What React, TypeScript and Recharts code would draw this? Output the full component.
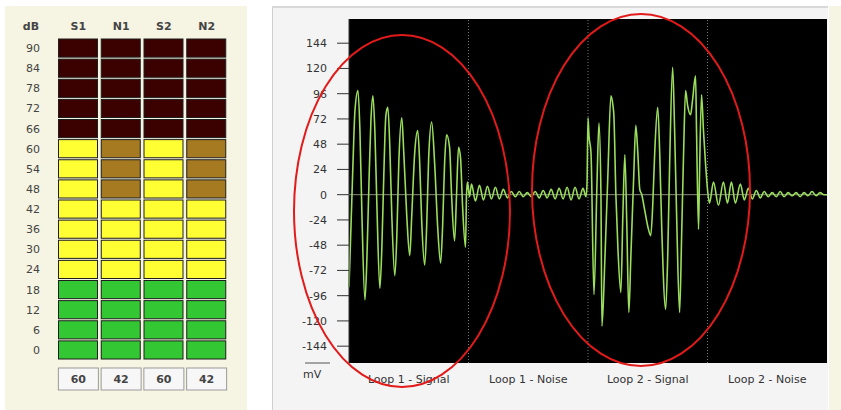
import React from 'react'
import {
  BarChart,
  Bar,
  XAxis,
  YAxis,
  LineChart,
  Line,
  CartesianGrid,
  ReferenceLine,
} from 'recharts'

// level meter: 16 steps of 6 dB per channel
const dbStep = 6
const dbLevels = [0, 6, 12, 18, 24, 30, 36, 42, 48, 54, 60, 66, 72, 78, 84, 90]
const channels = ['S1', 'N1', 'S2', 'N2']
const readings = [60, 42, 60, 42]

// waveform, [time, mV]
const loop1Signal = [
  [0, -88], [2, -30], [4, 30], [6, 80], [9, 99], [11, 60], [13, -20], [16, -100],
  [18, -60], [20, 10], [22, 70], [24, 94], [26, 60], [28, -10], [31, -89], [33, -50],
  [35, 20], [37, 75], [39, 83], [41, 45], [43, -20], [46, -77], [48, -40], [50, 30],
  [53, 73], [55, 40], [58, -20], [61, -58], [63, -20], [66, 40], [69, 61], [71, 30],
  [73, -25], [76, -67], [78, -30], [80, 35], [83, 69], [86, 30], [89, -30], [92, -65],
  [94, -30], [96, 30], [98, 57], [101, 45], [103, 0], [106, -44], [108, 0], [110, 45],
  [112, 35], [114, -10], [117, -50], [118, 0], [119, 12],
]
const loop1Noise = [
  [121, -2], [123, 10], [127, -6], [131, 9], [135, -5], [139, 8], [143, -4], [147, 7],
  [151, -4], [155, 5], [159, -3], [163, 3], [167, -2], [171, 3], [175, -2], [179, 2],
  [183, -2], [187, 3], [191, -3], [195, 4], [199, -3], [203, 5], [207, -4], [211, 6],
  [215, -4], [219, 7], [223, -5], [227, 7], [231, -4], [235, 6], [238, -2],
]
const loop2Signal = [
  [239, 10], [240, 73], [241, 56], [243, 40], [246, -95], [249, 10], [251, 68], [253, 0],
  [254, -125], [257, -60], [260, 20], [263, 94], [265, 85], [266, 75], [268, 0], [270, -50],
  [273, -93], [275, -20], [277, 38], [279, -30], [281, -112], [283, -60], [286, 20], [288, 66],
  [290, 40], [292, 5], [294, 0], [297, -15], [300, -30], [303, -39], [305, -10], [307, 40],
  [310, 83], [312, 40], [314, -30], [318, -109], [320, -60], [322, 30], [325, 121], [327, 60],
  [329, -20], [332, -112], [334, -40], [336, 40], [338, 99], [340, 85], [343, 76], [345, 90],
  [348, 113], [349, 60], [351, -33], [352, 20], [354, 95], [356, 60], [358, 30], [360, 5],
]
const loop2Noise = [
  [362, -8], [366, 12], [371, -10], [376, 12], [380, -8], [384, 12], [388, -8], [393, 10],
  [397, -5], [401, 6], [405, -4], [409, 4], [413, -3], [417, 3], [421, -2], [425, 2],
  [429, -2], [433, 3], [437, -2], [441, 2], [445, -1], [449, 2], [453, -2], [457, 2],
  [461, -1], [465, 3], [469, -1], [473, 2], [477, 0], [480, 0],
]

const loopBounds = [120, 240, 360]
const loopLabelTimes = [60, 180, 300, 420]
const loopLabels = ['Loop 1 - Signal', 'Loop 1 - Noise', 'Loop 2 - Signal', 'Loop 2 - Noise']
const mvTicks = [-144, -120, -96, -72, -48, -24, 0, 24, 48, 72, 96, 120, 144]

const FONT = '"DejaVu Sans", Verdana, sans-serif'

const meterData = channels.map((name, i) => {
  const row: Record<string, number | string> = { name, reading: readings[i] }
  dbLevels.forEach((l) => (row[`L${l}`] = dbStep))
  return row
})

const waveData = [...loop1Signal, ...loop1Noise, ...loop2Signal, ...loop2Noise].map(([t, mv]) => ({ t, mv }))

function segmentColor(level: number, lit: boolean) {
  if (level <= 18) return lit ? '#33c833' : '#185c18'
  if (level <= 60) return lit ? '#ffff33' : '#a67a20'
  return lit ? '#ff2a2a' : '#3b0000'
}

const segmentShape = (level: number) => (props: any) => {
  const { x, y, width, height, payload } = props
  const lit = payload.reading >= level
  return (
    <rect
      x={x + 0.5}
      y={y + 1}
      width={width - 1}
      height={height - 2}
      fill={segmentColor(level, lit)}
      stroke="#1e1e1e"
      strokeWidth={1}
    />
  )
}

const DbTick = ({ y, payload }: any) => (
  <text x={40} y={y} dy={4} textAnchor="end" fontSize={11} fontFamily={FONT} fill="#444">
    {payload.value - dbStep / 2}
  </text>
)

const HeadTick = ({ x, payload }: any) => (
  <text x={x} y={30} textAnchor="middle" fontSize={11} fontWeight="bold" fontFamily={FONT} fill="#444">
    {payload.value}
  </text>
)

const ReadingTick = ({ x, index }: any) => (
  <g>
    <rect x={x - 20} y={368} width={40} height={22} fill="#f7f7f7" stroke="#9a9a9a" />
    <text x={x} y={383} textAnchor="middle" fontSize={11} fontWeight="bold" fontFamily={FONT} fill="#444">
      {readings[index]}
    </text>
  </g>
)

const DbLabel = () => (
  <text x={31} y={30} textAnchor="middle" fontSize={11} fontWeight="bold" fontFamily={FONT} fill="#444">
    dB
  </text>
)

const MvLabel = (props: any) => {
  const { viewBox } = props
  const bottom = viewBox.y + viewBox.height
  return (
    <g>
      <line x1={33} x2={58} y1={bottom} y2={bottom} stroke="#555" />
      <text x={31} y={bottom + 15} fontSize={11} fontFamily={FONT} fill="#333">
        mV
      </text>
    </g>
  )
}

function LevelMeter() {
  return (
    <BarChart width={248} height={410} data={meterData} margin={{ top: 0, right: 20, bottom: 0, left: 0 }} barSize={40}>
      <XAxis xAxisId="head" orientation="top" dataKey="name" height={38} axisLine={false} tickLine={false} tick={<HeadTick />} />
      <XAxis dataKey="name" height={50} axisLine={false} tickLine={false} tick={<ReadingTick />} />
      <YAxis
        type="number"
        domain={[0, dbStep * dbLevels.length]}
        ticks={dbLevels.map((l) => l + dbStep / 2)}
        interval={0}
        width={57}
        axisLine={false}
        tickLine={false}
        tick={<DbTick />}
        label={{ content: <DbLabel /> }}
      />
      {dbLevels.map((l) => (
        <Bar key={l} dataKey={`L${l}`} stackId="meter" isAnimationActive={false} shape={segmentShape(l)} />
      ))}
    </BarChart>
  )
}

function Waveform() {
  return (
    <LineChart width={560} height={410} data={waveData} margin={{ top: 19, right: 5, bottom: 0, left: 0 }}>
      <CartesianGrid horizontal={false} vertical={false} fill="#000" />
      <XAxis
        type="number"
        dataKey="t"
        domain={[0, 480]}
        ticks={loopLabelTimes}
        interval={0}
        tickFormatter={(v: number) => loopLabels[loopLabelTimes.indexOf(v)]}
        height={47}
        axisLine={false}
        tickLine={false}
        tickSize={0}
        tickMargin={12}
        tick={{ fontSize: 11, fontFamily: FONT, fill: '#333' }}
      />
      <YAxis
        type="number"
        domain={[-160, 167]}
        ticks={mvTicks}
        interval={0}
        width={77}
        axisLine={{ stroke: '#333' }}
        tickLine={{ stroke: '#333' }}
        tickSize={12}
        tickMargin={10}
        tick={{ fontSize: 11, fontFamily: FONT, fill: '#333' }}
        label={{ content: <MvLabel /> }}
      />
      <ReferenceLine y={0} stroke="#8a8a80" />
      {loopBounds.map((b) => (
        <ReferenceLine key={b} x={b} stroke="#777" strokeDasharray="1 2" />
      ))}
      <Line type="monotone" dataKey="mv" stroke="#9ade5c" strokeWidth={1.6} dot={false} isAnimationActive={false} />
    </LineChart>
  )
}

export default function App() {
  return (
    <div style={{ position: 'absolute', left: 0, top: 0, width: 841, height: 410, background: '#fff', overflow: 'hidden' }}>
      <div style={{ position: 'absolute', left: 5, top: 6, width: 242, height: 404, background: '#f6f4e2' }} />
      <div style={{ position: 'absolute', left: 829, top: 6, width: 12, height: 404, background: '#f6f4e2' }} />
      <div
        style={{
          position: 'absolute',
          left: 272,
          top: 6,
          width: 556,
          height: 404,
          background: '#f4f4f4',
          borderTop: '2px solid #d8d8d8',
          borderLeft: '1px solid #cfcfcf',
          boxSizing: 'border-box',
        }}
      />
      <div style={{ position: 'absolute', left: 0, top: 0 }}>
        <LevelMeter />
      </div>
      <div style={{ position: 'absolute', left: 272, top: 0 }}>
        <Waveform />
      </div>
      <svg width={841} height={410} style={{ position: 'absolute', left: 0, top: 0, pointerEvents: 'none' }}>
        <ellipse cx={402} cy={211} rx={108} ry={176} fill="none" stroke="#e21a1a" strokeWidth={2} />
        <ellipse cx={641} cy={190} rx={109} ry={176} fill="none" stroke="#e21a1a" strokeWidth={2} />
      </svg>
    </div>
  )
}
